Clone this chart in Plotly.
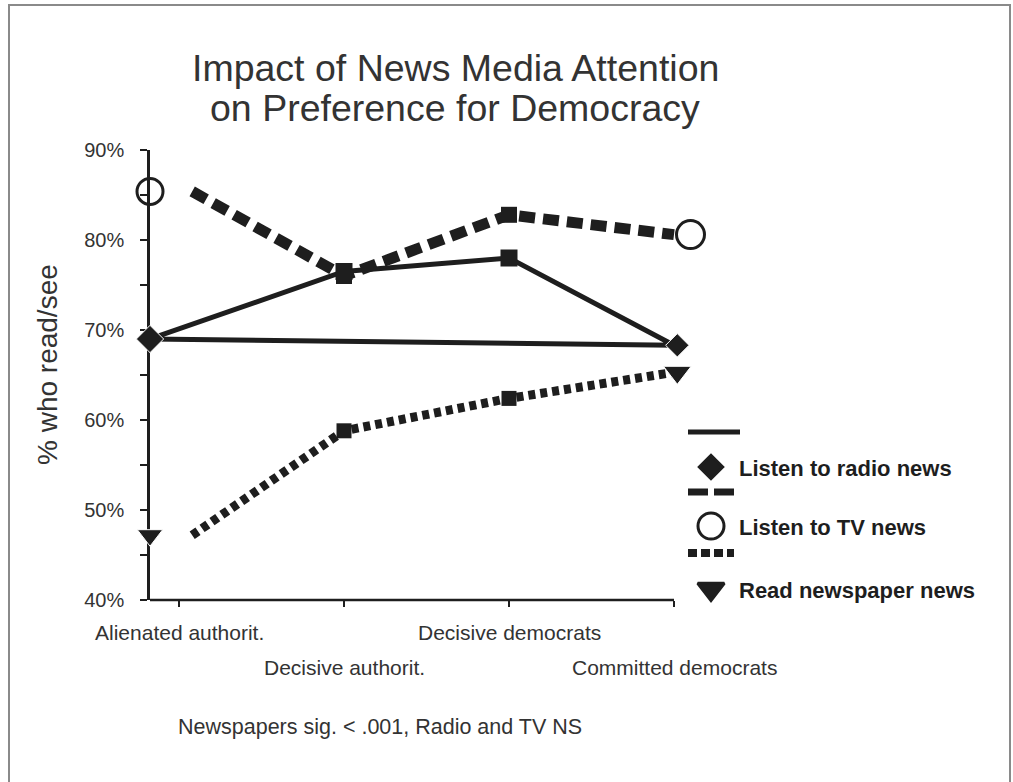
import plotly.graph_objects as go

# ---- data -------------------------------------------------------------
categories = ["Alienated authorit.", "Decisive authorit.",
              "Decisive democrats", "Committed democrats"]
radio = [69.0, 76.5, 78.0, 68.3]        # Listen to radio news (%)
tv = [85.4, 76.0, 82.8, 80.6]           # Listen to TV news (%)
newspaper = [47.2, 58.8, 62.4, 65.3]    # Read newspaper news (%)

y_ticks = [40, 50, 60, 70, 80, 90]
y_tick_labels = [f"{v}%" for v in y_ticks]

# ---- layout geometry (pixels) ----------------------------------------
W, H = 1013, 782
L, R, T, B = 150, 10, 150, 182
PW, PH = W - L - R, H - T - B
UNIT = 165                      # pixels per category step
X_LO = -29 / UNIT               # axis starts a little left of the first category
X_HI = 3.2                      # room for the end symbols
PLOT_RIGHT = L + (X_HI - X_LO) * UNIT
X_DOMAIN_END = (PLOT_RIGHT - L) / PW

INK = "#1e1e1e"
TXT = "#333333"
FONT = "Liberation Sans, Arial, sans-serif"


def px(x):
    return (x - L) / PW


def py(y):
    return (H - B - y) / PH


idx = list(range(len(categories)))
first, last = idx[0], idx[-1]

fig = go.Figure()

# radio: solid path from the left axis marker through the categories and back
fig.add_trace(go.Scatter(
    x=[X_LO] + idx[1:] + [X_LO], y=radio + [radio[0]],
    mode="lines", line=dict(color=INK, width=5),
    cliponaxis=False, showlegend=False, hoverinfo="skip"))

# TV: heavy dashed line
fig.add_trace(go.Scatter(
    x=[first + 0.08] + idx[1:], y=tv,
    mode="lines", line=dict(color=INK, width=11, dash="16px,8px"),
    cliponaxis=False, showlegend=False, hoverinfo="skip"))

# newspapers: heavy dotted line
fig.add_trace(go.Scatter(
    x=[first + 0.08] + idx[1:], y=newspaper,
    mode="lines", line=dict(color=INK, width=9, dash="7px,5px"),
    cliponaxis=False, showlegend=False, hoverinfo="skip"))

# square markers at the middle categories
for series, size in ((radio, 17), (tv, 16), (newspaper, 15)):
    fig.add_trace(go.Scatter(
        x=idx[1:3], y=series[1:3], mode="markers",
        marker=dict(symbol="square", size=size, color=INK, opacity=1),
        cliponaxis=False, showlegend=False, hoverinfo="skip"))

# end-point symbols
fig.add_trace(go.Scatter(
    x=[X_LO, last + 0.02], y=[radio[0], radio[-1]], mode="markers",
    marker=dict(symbol="diamond", size=[21, 18], color=INK, opacity=1),
    cliponaxis=False, showlegend=False, hoverinfo="skip"))
fig.add_trace(go.Scatter(
    x=[X_LO, last + 0.1], y=[tv[0], tv[-1]], mode="markers",
    marker=dict(symbol="circle-open", size=[26, 28], color=INK, opacity=1,
                line=dict(width=3, color=INK)),
    cliponaxis=False, showlegend=False, hoverinfo="skip"))
fig.add_trace(go.Scatter(
    x=[X_LO, last + 0.02], y=[newspaper[0], newspaper[-1]], mode="markers",
    marker=dict(symbol="triangle-down", size=[22, 24], color=INK, opacity=1),
    cliponaxis=False, showlegend=False, hoverinfo="skip"))

# ---- legend (drawn by hand) -----------------------------------------
legend_items = [
    ("Listen to radio news", "diamond", 18, "solid", 5, 432, 467),
    ("Listen to TV news", "circle-open", 26, "20px,6px", 7, 492, 526),
    ("Read newspaper news", "triangle-down", 23, "9px,4px", 8, 553, 589),
]
shapes = []
annotations = []
lx, ly, lsym, lsize = [], [], [], []
for label, sym, msize, dash, lw, line_y, row_y in legend_items:
    shapes.append(dict(type="line", xref="paper", yref="paper",
                       x0=px(688), x1=px(740 if dash == "solid" else 734),
                       y0=py(line_y), y1=py(line_y),
                       line=dict(color=INK, width=lw, dash=dash)))
    lx.append(711)
    ly.append(row_y)
    lsym.append(sym)
    lsize.append(msize)
    annotations.append(dict(
        text=label, xref="paper", yref="paper", x=px(737), y=py(row_y + 1),
        xanchor="left", yanchor="middle", showarrow=False,
        font=dict(family=FONT, size=22, color=INK, weight="bold")))

fig.add_trace(go.Scatter(
    x=lx, y=ly, xaxis="x2", yaxis="y2", mode="markers",
    marker=dict(symbol=lsym, size=lsize, color=INK, opacity=1,
                line=dict(width=3, color=INK)),
    cliponaxis=False, showlegend=False, hoverinfo="skip"))

# x axis line runs only up to the last category
shapes.append(dict(type="line", xref="x", yref="paper",
                   x0=X_LO, x1=last, y0=0, y1=0,
                   line=dict(color=INK, width=2.5)))

# ---- staggered category labels ---------------------------------------
for i, cat in zip(idx, categories):
    annotations.append(dict(
        text=cat, xref="x", yref="paper", x=i, y=0,
        xanchor="center", yanchor="top", yshift=-19 if i % 2 == 0 else -54,
        showarrow=False, font=dict(family=FONT, size=21, color=TXT)))

# ---- title, axis title and note --------------------------------------
for text, cy in (("Impact of News Media Attention", 68),
                 ("on Preference for Democracy", 108)):
    annotations.append(dict(
        text=text, xref="paper", yref="paper", x=px(455), y=py(cy),
        xanchor="center", yanchor="middle", showarrow=False,
        font=dict(family=FONT, size=37.5, color=TXT)))

annotations.append(dict(
    text="% who read/see", xref="paper", yref="paper", x=px(47), y=py(365),
    xanchor="center", yanchor="middle", textangle=-90, showarrow=False,
    font=dict(family=FONT, size=28, color=TXT)))

annotations.append(dict(
    text="Newspapers sig. < .001, Radio and TV NS", xref="paper", yref="paper",
    x=px(380), y=py(727), xanchor="center", yanchor="middle",
    showarrow=False, font=dict(family=FONT, size=21.5, color=TXT)))

# outer frame
shapes.append(dict(type="rect", xref="paper", yref="paper",
                   x0=px(9), x1=px(1010), y0=py(5), y1=py(800),
                   line=dict(color="#8a8a8a", width=2), layer="below"))

fig.update_layout(
    width=W, height=H,
    margin=dict(l=L, r=R, t=T, b=B, pad=0),
    paper_bgcolor="white", plot_bgcolor="rgba(0,0,0,0)",
    showlegend=False,
    shapes=shapes, annotations=annotations,
    xaxis=dict(domain=[0, X_DOMAIN_END], range=[X_LO, X_HI], tickvals=idx,
               showticklabels=False,
               ticks="outside", ticklen=6, tickwidth=2, tickcolor=INK,
               showline=False, showgrid=False, zeroline=False,
               fixedrange=True),
    yaxis=dict(range=[40, 90], tickvals=y_ticks, ticktext=y_tick_labels,
               ticks="outside", ticklen=7, tickwidth=2, tickcolor=INK,
               minor=dict(dtick=5, ticks="outside", ticklen=7,
                          tickwidth=2, tickcolor=INK, showgrid=False),
               ticklabelstandoff=12,
               tickfont=dict(family=FONT, size=20, color=TXT),
               showline=True, linecolor=INK, linewidth=2.5,
               layer="below traces",
               showgrid=False, zeroline=False, fixedrange=True),
    xaxis2=dict(domain=[X_DOMAIN_END, 1], range=[PLOT_RIGHT, W - R],
                anchor="y2", visible=False, fixedrange=True),
    yaxis2=dict(domain=[0, 1], range=[H - B, T], anchor="x2",
                visible=False, fixedrange=True),
)

fig.write_html("out.html")
